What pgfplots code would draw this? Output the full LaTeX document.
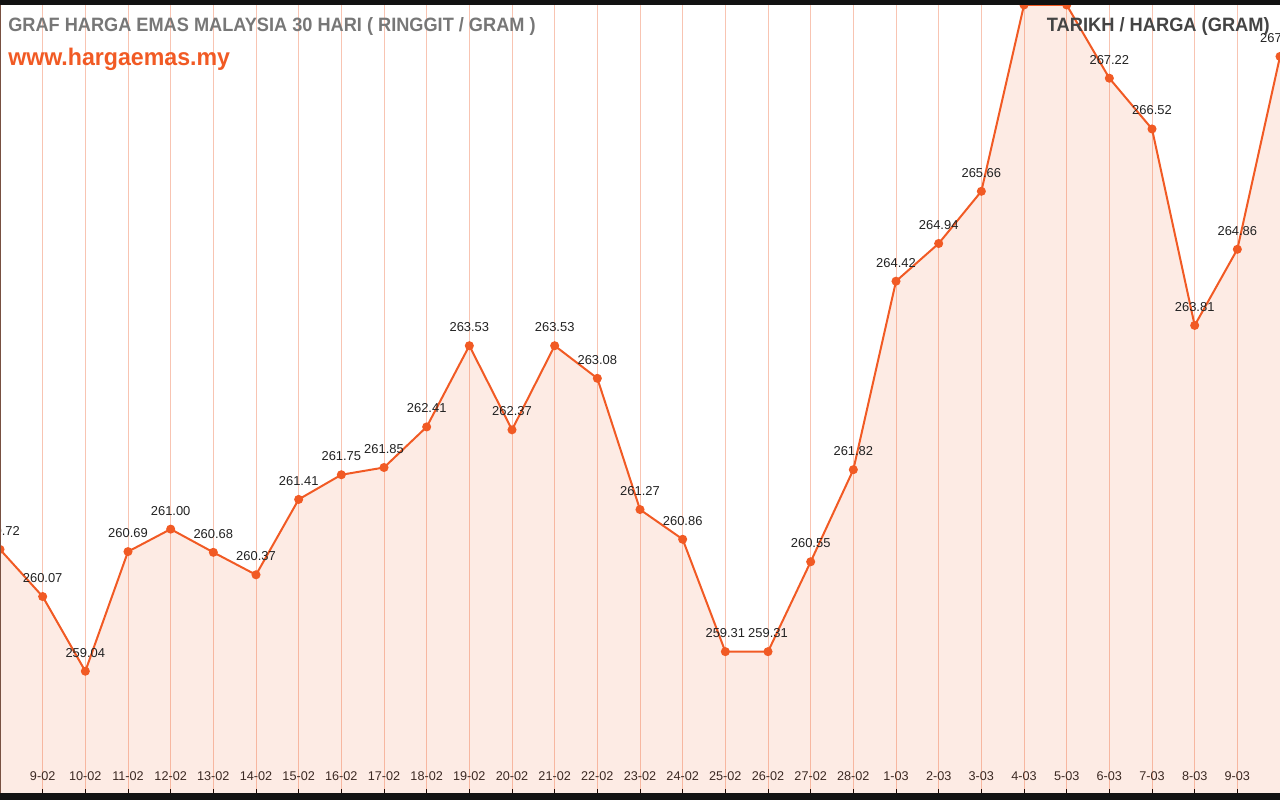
\documentclass[border=0pt]{standalone}
\usepackage{fontspec}
\setmainfont{Liberation Sans}
\usepackage{graphicx}
\usepackage{pgfplots}
\usepackage{pgfplotstable}
\pgfplotsset{compat=1.18}
\definecolor{emasline}{RGB}{241,90,36}
\definecolor{gridpink}{RGB}{248,196,178}
\definecolor{edgebrown}{RGB}{120,80,65}
\definecolor{labeltext}{RGB}{34,34,34}
\definecolor{titlegrey}{RGB}{119,119,119}
\definecolor{darkgrey}{RGB}{68,68,68}

% harga emas (RM / gram), 8-02 hingga 10-03
\pgfplotstableread{
x price
0  260.72
1  260.07
2  259.04
3  260.69
4  261.00
5  260.68
6  260.37
7  261.41
8  261.75
9  261.85
10 262.41
11 263.53
12 262.37
13 263.53
14 263.08
15 261.27
16 260.86
17 259.31
18 259.31
19 260.55
20 261.82
21 264.42
22 264.94
23 265.66
24 268.23
25 268.23
26 267.22
27 266.52
28 263.81
29 264.86
30 267.52
}\emasdata

\begin{document}
\begin{tikzpicture}
\useasboundingbox (0,0) rectangle (960pt,600pt);
\clip (0,0) rectangle (960pt,600pt);
\begin{axis}[
  at={(0pt,5.25pt)}, anchor=south west,
  scale only axis, width=960pt, height=591pt,
  xmin=0, xmax=30, ymin=257.36, ymax=268.23,
  axis line style={draw=none},
  ytick=\empty,
  xtick={1,...,29},
  xticklabels={9-02,10-02,11-02,12-02,13-02,14-02,15-02,16-02,17-02,18-02,19-02,20-02,21-02,22-02,23-02,24-02,25-02,26-02,27-02,28-02,1-03,2-03,3-03,4-03,5-03,6-03,7-03,8-03,9-03},
  tick align=inside, xtick pos=lower,
  major tick length=3pt,
  tick style={black, line width=0.75pt},
  xmajorgrids, grid style={gridpink, line width=0.75pt},
  xticklabel style={font=\fontsize{9.5}{11}\selectfont, text=labeltext, anchor=base, yshift=9.2pt},
  /pgf/number format/assume math mode=true,
]
\addplot[draw=none, fill=emasline, fill opacity=0.12, forget plot]
  table[x=x, y=price] {\emasdata} \closedcycle;
\addplot[emasline, line width=1.5pt, mark=*, mark size=2.6pt,
  mark options={fill=emasline, draw=emasline},
  nodes near coords,
  every node near coord/.append style={font=\fontsize{9.7}{11}\selectfont, text=labeltext, anchor=base, yshift=10.5pt,
    /pgf/number format/.cd, fixed, zerofill, precision=2, 1000 sep={}, assume math mode=true}]
  table[x=x, y=price] {\emasdata};
\end{axis}
\draw[edgebrown, line width=2pt] (0,5.25pt) -- (0,596.25pt);
\fill[black!93] (0,0) rectangle (960pt,5.25pt);
\fill[black!93] (0,596.25pt) rectangle (960pt,600pt);
\node[anchor=base west, inner sep=0, font=\bfseries\fontsize{14.5}{16}\selectfont, text=titlegrey] at (6pt,576pt) {\scalebox{0.94}[1]{GRAF HARGA EMAS MALAYSIA 30 HARI ( RINGGIT / GRAM )}};
\node[anchor=base west, inner sep=0, font=\bfseries\fontsize{18}{20}\selectfont, text=emasline] at (6pt,550.5pt) {\scalebox{0.965}[1]{www.hargaemas.my}};
\node[anchor=base east, inner sep=0, font=\bfseries\fontsize{14.5}{16}\selectfont, text=darkgrey] at (952.5pt,576pt) {\scalebox{0.945}[1]{TARIKH / HARGA (GRAM)}};
\end{tikzpicture}
\end{document}
